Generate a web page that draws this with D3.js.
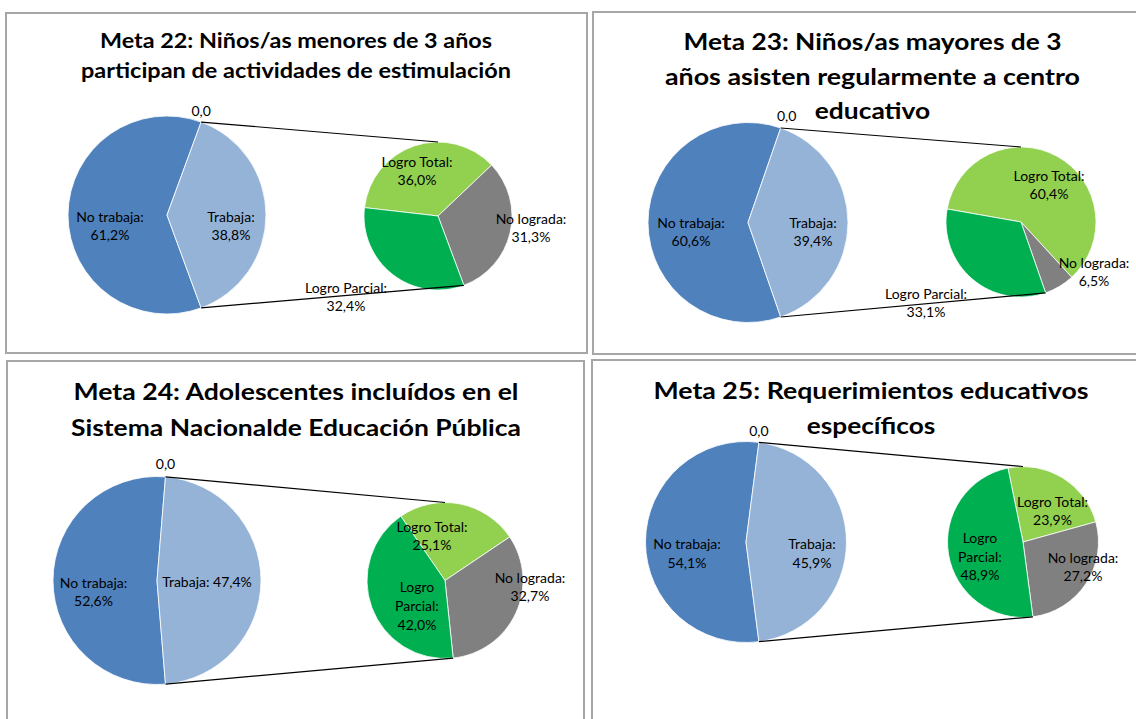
<!DOCTYPE html>
<html lang="es">
	<head>
		<meta charset="utf-8">
		<title>Metas 22-25: pie of pie</title>
		<script type="text/javascript" src="https://cdn.jsdelivr.net/npm/d3@7"></script>
		<style type="text/css">

			body {
				margin: 0;
				background: #fff;
			}

			svg {
				display: block;
			}

			.frame {
				fill: none;
				stroke: #a6a6a6;
				stroke-width: 2;
			}

			.title {
				font-family: Lato, "Open Sans", sans-serif;
				font-weight: bold;
				fill: #000;
				text-anchor: middle;
			}

			.label {
				font-family: Lato, "Open Sans", sans-serif;
				font-size: 14px;
				fill: #000;
				text-anchor: middle;
			}

			.slice {
				stroke: #fff;
				stroke-width: 0.8;
			}

			.connector {
				fill: none;
				stroke: #000;
				stroke-width: 1.2;
			}

		</style>
	</head>
	<body>
		<script type="text/javascript">

			var w = 1136, h = 719;

			//Data
			var mainCategories = ["No trabaja", "", "Trabaja"];
			var subCategories = ["Logro Total", "No lograda", "Logro Parcial"];
			var titles = [
				["Meta 22: Niños/as menores de 3 años", "participan de actividades de estimulación"],
				["Meta 23: Niños/as mayores de 3", "años asisten regularmente a centro", "educativo"],
				["Meta 24: Adolescentes incluídos en el", "Sistema Nacionalde Educación Pública"],
				["Meta 25: Requerimientos educativos", "específicos"]
			];
			var mainValues = [[61.2, 0, 38.8], [60.6, 0, 39.4], [52.6, 0, 47.4], [54.1, 0, 45.9]];
			var subValues = [[36.0, 31.3, 32.4], [60.4, 6.5, 33.1], [25.1, 32.7, 42.0], [23.9, 27.2, 48.9]];

			//Layout of each panel (frame, title, pies, label offsets [dx, dy, lines])
			var layout = [
				{ frame: [6, 13, 581, 340],
				  title: { x: 296, y: [48, 78.3], size: 21, len: [392, 430] },
				  main: { cx: 167, cy: 215, r: 99 },
				  sub: { cx: 438, cy: 216, r: 74, start: 276.5 },
				  zero: [0, -6],
				  mainLab: [[-57, 11, 2], null, [64, 11, 2]],
				  subLab: [[-21, -45, 2], [93, 12, 2], [-92, 81, 2]] },
				{ frame: [593, 12, 600, 342],
				  title: { x: 872.5, y: [50, 84.5, 119], size: 23.5, len: [378, 415, 115.5] },
				  main: { cx: 748, cy: 222.5, r: 100 },
				  sub: { cx: 1021, cy: 222, r: 75, start: 280 },
				  zero: [6, -6.5],
				  mainLab: [[-57, 9.5, 2], null, [65, 9.5, 2]],
				  subLab: [[28, -37, 2], [73, 50, 2], [-95, 81, 2]] },
				{ frame: [7, 361, 577, 400],
				  title: { x: 296, y: [400, 435.7], size: 23.5, len: [445, 450] },
				  main: { cx: 157, cy: 580.5, r: 104 },
				  sub: { cx: 445, cy: 580.5, r: 78, start: 325.5 },
				  zero: [0, -8],
				  mainLab: [[-63.5, 11.5, 2], null, [50, 1.5, 1]],
				  subLab: [[-13, -44.5, 2], [85, 6.5, 2], [-28, 25.5, 3]] },
				{ frame: [592, 360, 600, 400],
				  title: { x: 871, y: [399.3, 434], size: 22.5, len: [435, 128.5] },
				  main: { cx: 746, cy: 542, r: 100.5 },
				  sub: { cx: 1023, cy: 542, r: 75.5, start: 348.5 },
				  zero: [0, -6],
				  mainLab: [[-59, 11.5, 2], null, [66, 11.5, 2]],
				  subLab: [[29.5, -31, 2], [60, 25, 2], [-43, 14.7, 3]] }
			];

			var lineHeight = 18.8;

			//Colours
			var mainColor = d3.scaleOrdinal()
							.domain(mainCategories)
							.range(["#4f81bd", "#4f81bd", "#95b3d7"]);
			var subColor = d3.scaleOrdinal()
							.domain(subCategories)
							.range(["#92d050", "#808080", "#00b050"]);

			//Spanish number format: 38,8
			var fmt = d3.formatLocale({ decimal: ",", thousands: ".", grouping: [3], currency: ["", "€"] }).format(".1f");

			var svg = d3.select("body")
						.append("svg")
						.attr("width", w)
						.attr("height", h);

			function pointAt(c, r, a) {
				return [c.cx + r * Math.sin(a), c.cy - r * Math.cos(a)];
			}

			function labelLines(cat, v, n) {
				if (n === 1) return [cat + ": " + fmt(v) + "%"];
				if (n === 3) {
					var words = cat.split(" ");
					return [words[0], words.slice(1).join(" ") + ":", fmt(v) + "%"];
				}
				return [cat + ":", fmt(v) + "%"];
			}

			function drawLabel(g, x, y, lines) {
				var t = g.append("text")
						.attr("class", "label")
						.attr("x", x)
						.attr("y", y - (lines.length - 1) * lineHeight / 2);
				lines.forEach(function(s, i) {
					t.append("tspan")
					 .attr("x", x)
					 .attr("dy", i === 0 ? "0.35em" : lineHeight)
					 .text(s);
				});
			}

			layout.forEach(function(L, k) {

				var g = svg.append("g");

				//Frame
				g.append("rect")
				 .attr("class", "frame")
				 .attr("x", L.frame[0])
				 .attr("y", L.frame[1])
				 .attr("width", L.frame[2])
				 .attr("height", L.frame[3]);

				//Main pie: "Trabaja" slice centered on the right side
				var t = mainValues[k][2] / d3.sum(mainValues[k]) * 2 * Math.PI;
				var a0 = Math.PI / 2 + t / 2;
				var mainPie = d3.pie().sort(null).value(function(d) { return d; })
								.startAngle(a0).endAngle(a0 + 2 * Math.PI);
				var mainArcs = mainPie(mainValues[k]);
				var mainArc = d3.arc().innerRadius(0).outerRadius(L.main.r);

				g.append("g")
				 .attr("transform", "translate(" + L.main.cx + "," + L.main.cy + ")")
				 .selectAll("path")
				 .data(mainArcs.filter(function(d) { return d.value > 0; }))
				 .enter()
				 .append("path")
				 .attr("class", "slice")
				 .attr("fill", function(d) { return mainColor(mainCategories[d.index]); })
				 .attr("d", mainArc);

				//Secondary pie
				var s0 = L.sub.start * Math.PI / 180;
				var subPie = d3.pie().sort(null).value(function(d) { return d; })
								.startAngle(s0).endAngle(s0 + 2 * Math.PI);
				var subArcs = subPie(subValues[k]);
				var subArc = d3.arc().innerRadius(0).outerRadius(L.sub.r);

				g.append("g")
				 .attr("transform", "translate(" + L.sub.cx + "," + L.sub.cy + ")")
				 .selectAll("path")
				 .data(subArcs)
				 .enter()
				 .append("path")
				 .attr("class", "slice")
				 .attr("fill", function(d) { return subColor(subCategories[d.index]); })
				 .attr("d", subArc);

				//Connector lines
				var topMain = pointAt(L.main, L.main.r, mainArcs[2].startAngle);
				var botMain = pointAt(L.main, L.main.r, mainArcs[0].startAngle);
				var topSub = pointAt(L.sub, L.sub.r, 0);
				var botSub = pointAt(L.sub, L.sub.r, subArcs[1].endAngle);

				g.selectAll("line.connector")
				 .data([[topMain, topSub], [botMain, botSub]])
				 .enter()
				 .append("line")
				 .attr("class", "connector")
				 .attr("x1", function(d) { return d[0][0]; })
				 .attr("y1", function(d) { return d[0][1]; })
				 .attr("x2", function(d) { return d[1][0]; })
				 .attr("y2", function(d) { return d[1][1]; });

				//Labels of the main pie
				mainArcs.forEach(function(d, i) {
					if (d.value === 0) {
						g.append("text")
						 .attr("class", "label")
						 .attr("x", topMain[0] + L.zero[0])
						 .attr("y", topMain[1] + L.zero[1])
						 .text(fmt(d.value));
						return;
					}
					var o = L.mainLab[i];
					drawLabel(g, L.main.cx + o[0], L.main.cy + o[1], labelLines(mainCategories[i], d.value, o[2]));
				});

				//Labels of the secondary pie
				subArcs.forEach(function(d, i) {
					var o = L.subLab[i];
					drawLabel(g, L.sub.cx + o[0], L.sub.cy + o[1], labelLines(subCategories[i], d.value, o[2]));
				});

				//Title
				titles[k].forEach(function(line, i) {
					g.append("text")
					 .attr("class", "title")
					 .attr("x", L.title.x)
					 .attr("y", L.title.y[i])
					 .attr("font-size", L.title.size)
					 .attr("textLength", L.title.len[i])
					 .attr("lengthAdjust", "spacingAndGlyphs")
					 .text(line);
				});
			});

		</script>
	</body>
</html>
